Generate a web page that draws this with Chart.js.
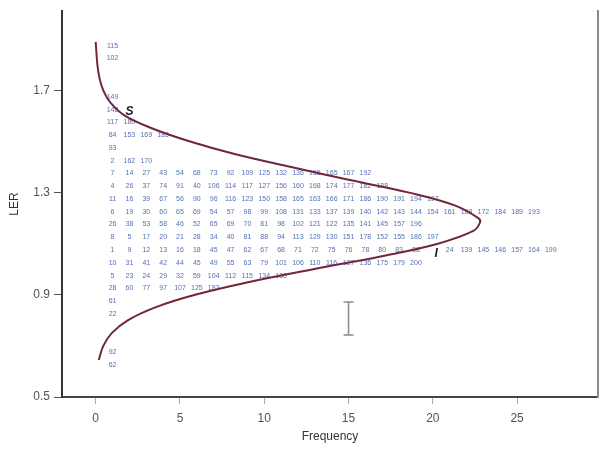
<!DOCTYPE html>
<html><head><meta charset="utf-8">
<script src="https://cdn.jsdelivr.net/npm/chart.js@4.4.0/dist/chart.umd.min.js"></script>
<style>html,body{margin:0;padding:0;background:#fff;}#wrap{width:613px;height:450px;position:relative;}</style>
</head><body><div id="wrap"><canvas id="c"></canvas></div>
<script>
// Stem rows: LER bin centres and subject IDs stacked along frequency
const rowLER = [1.875,1.825,1.675,1.625,1.575,1.525,1.475,1.425,1.375,1.325,1.275,1.225,1.175,1.125,1.075,1.025,0.975,0.925,0.875,0.825,0.675,0.625];
const row01 = [115];
const row02 = [102];
const row03 = [149];
const row04 = [148];
const row05 = [117,180];
const row06 = [84,153,169,185];
const row07 = [93];
const row08 = [2,162,170];
const row09 = [7,14,27,43,54,68,73,92,109,125,132,136,155,165,167,192];
const row10 = [4,26,37,74,91,40,106,114,117,127,156,160,168,174,177,182,188];
const row11 = [11,16,39,67,56,90,96,116,123,150,158,165,163,166,171,186,190,191,194,197];
const row12 = [6,19,30,60,65,69,54,57,98,99,108,131,133,137,139,140,142,143,144,154,161,169,172,184,189,193];
const row13 = [26,38,53,58,46,52,65,69,70,81,98,102,121,122,135,141,145,157,196];
const row14 = [8,5,17,20,21,28,34,40,81,88,94,113,129,130,151,178,152,155,186,197];
const row15 = [1,9,12,13,16,18,45,47,62,67,68,71,72,75,76,78,80,83,88,null,24,139,145,146,157,164,199];
const row16 = [10,31,41,42,44,45,49,55,63,79,101,106,110,116,127,136,175,179,200];
const row17 = [5,23,24,29,32,59,104,112,115,134,180];
const row18 = [28,60,77,97,107,125,183];
const row19 = [61];
const row20 = [22];
const row21 = [92];
const row22 = [62];
const rowIds = [row01,row02,row03,row04,row05,row06,row07,row08,row09,row10,row11,row12,row13,row14,row15,row16,row17,row18,row19,row20,row21,row22];

// Fitted curve (frequency vs LER)
const curveLER  = [1.89,1.85,1.80,1.75,1.70,1.65,1.60,1.55,1.50,1.45,1.40,1.35,1.30,1.25,1.20,1.183,1.15,1.10,1.05,1.00,0.95,0.90,0.85,0.80,0.75,0.70,0.645];
const curveFreq = [0.0,0.04,0.1,0.22,0.45,0.9,1.75,3.4,5.6,8.3,11.6,15.0,18.6,21.3,22.7,22.8,22.4,20.3,16.9,12.9,9.1,5.9,3.5,1.9,0.95,0.45,0.18];

const xTicks = [0,5,10,15,20,25];
const yTicks = [0.5,0.9,1.3,1.7];

// Error bar and annotations
const errBar = {x:15, low:0.743, high:0.872};
const labelText = ["S","I"];
const labelX = [2.0, 20.2];
const labelY = [1.615, 1.06];

const curveData = curveLER.map((v,i)=>({x:curveFreq[i], y:v}));
const leafPoints = [];
rowIds.forEach((ids,r)=>ids.forEach((id,k)=>{ if(id!==null) leafPoints.push({x:k+1, y:rowLER[r], id:id}); }));

const font = "'Liberation Sans', Arial, sans-serif";

const overlay = {
  id:'overlay',
  beforeDatasetsDraw(chart){
    const {ctx, scales:{x,y}} = chart;
    ctx.save();
    ctx.font = "7px " + font;
    ctx.fillStyle = "#5470b4";
    ctx.textAlign = "center";
    ctx.textBaseline = "middle";
    leafPoints.forEach(p=>ctx.fillText(String(p.id), x.getPixelForValue(p.x), y.getPixelForValue(p.y)));
    const ex = x.getPixelForValue(errBar.x), y1 = y.getPixelForValue(errBar.low), y2 = y.getPixelForValue(errBar.high);
    ctx.strokeStyle = "#8a8a8a"; ctx.lineWidth = 1.5;
    ctx.beginPath();
    ctx.moveTo(ex,y1); ctx.lineTo(ex,y2);
    ctx.moveTo(ex-5,y1); ctx.lineTo(ex+5,y1);
    ctx.moveTo(ex-5,y2); ctx.lineTo(ex+5,y2);
    ctx.stroke();
    ctx.restore();
  },
  afterDatasetsDraw(chart){
    const {ctx, scales:{x,y}} = chart;
    ctx.save();
    ctx.font = "italic bold 12px " + font;
    ctx.fillStyle = "#222";
    ctx.textAlign = "center";
    ctx.textBaseline = "middle";
    labelText.forEach((t,i)=>ctx.fillText(t, x.getPixelForValue(labelX[i]), y.getPixelForValue(labelY[i])));
    ctx.restore();
  }
};

new Chart(document.getElementById('c'), {
  type:'scatter',
  data:{datasets:[{
    data:curveData, showLine:true, pointRadius:0, borderColor:'#72263c', borderWidth:2, tension:0.4, fill:false
  }]},
  options:{
    responsive:true, maintainAspectRatio:false, animation:false,
    layout:{padding:{left:0,right:15,top:0,bottom:0}},
    plugins:{legend:{display:false}, tooltip:{enabled:false}},
    scales:{
      x:{type:'linear', min:-2, max:29.8,
        afterBuildTicks:a=>{a.ticks = xTicks.map(v=>({value:v}));},
        afterFit:a=>{a.height = 53;},
        grid:{drawOnChartArea:false, drawTicks:true, tickLength:7, color:'#aaa'},
        border:{display:true, color:'#444', width:2},
        ticks:{color:'#555', font:{family:font, size:12}, padding:7},
        title:{display:true, text:'Frequency', color:'#333', font:{family:font, size:12}, padding:{top:0,bottom:6}}
      },
      y:{type:'linear', min:0.5, max:2.01,
        afterBuildTicks:a=>{a.ticks = yTicks.map(v=>({value:v}));},
        afterFit:a=>{a.width = 62;},
        grid:{drawOnChartArea:false, drawTicks:true, tickLength:8, color:'#555'},
        border:{display:true, color:'#333', width:2},
        ticks:{color:'#555', font:{family:font, size:12}, padding:4, callback:v=>Number(v).toFixed(1)},
        title:{display:true, text:'LER', color:'#333', font:{family:font, size:12}, padding:{top:7,bottom:0}}
      },
      y2:{type:'linear', position:'right', min:0, max:1,
        afterFit:a=>{a.width = 0;},
        ticks:{display:false}, grid:{display:false, drawTicks:false},
        border:{display:true, color:'#8a8a8a', width:2}
      }
    }
  },
  plugins:[overlay]
});
</script></body></html>
